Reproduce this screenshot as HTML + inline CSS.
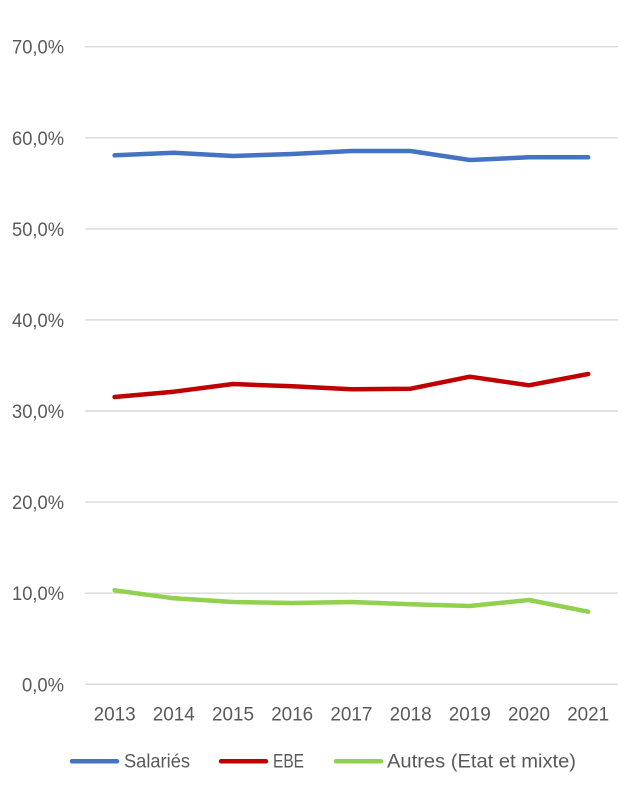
<!DOCTYPE html>
<html>
<head>
<meta charset="utf-8">
<style>
  html,body{margin:0;padding:0;background:#fff;}
  svg{display:block;}
  text{font-family:"Liberation Sans",sans-serif;fill:#595959;}
</style>
</head>
<body>
<svg width="640" height="790" viewBox="0 0 640 790" xmlns="http://www.w3.org/2000/svg">
  <rect width="640" height="790" fill="#fff"/>
  <!-- gridlines -->
  <g stroke="#d9d9d9" stroke-width="1.4">
    <line x1="85" x2="618" y1="684.3" y2="684.3"/>
    <line x1="85" x2="618" y1="593.2" y2="593.2"/>
    <line x1="85" x2="618" y1="502.1" y2="502.1"/>
    <line x1="85" x2="618" y1="411.0" y2="411.0"/>
    <line x1="85" x2="618" y1="319.9" y2="319.9"/>
    <line x1="85" x2="618" y1="228.9" y2="228.9"/>
    <line x1="85" x2="618" y1="137.8" y2="137.8"/>
    <line x1="85" x2="618" y1="46.7" y2="46.7"/>
  </g>
  <!-- y labels -->
  <g font-size="19.5" text-anchor="end">
    <text x="64" y="691.3" textLength="42" lengthAdjust="spacingAndGlyphs">0,0%</text>
    <text x="64" y="600.2" textLength="52" lengthAdjust="spacingAndGlyphs">10,0%</text>
    <text x="64" y="509.1" textLength="52" lengthAdjust="spacingAndGlyphs">20,0%</text>
    <text x="64" y="418.0" textLength="52" lengthAdjust="spacingAndGlyphs">30,0%</text>
    <text x="64" y="326.9" textLength="52" lengthAdjust="spacingAndGlyphs">40,0%</text>
    <text x="64" y="235.9" textLength="52" lengthAdjust="spacingAndGlyphs">50,0%</text>
    <text x="64" y="144.8" textLength="52" lengthAdjust="spacingAndGlyphs">60,0%</text>
    <text x="64" y="53.7" textLength="52" lengthAdjust="spacingAndGlyphs">70,0%</text>
  </g>
  <!-- x labels -->
  <g font-size="19.5" text-anchor="middle">
    <text x="114.6" y="720.7" textLength="42" lengthAdjust="spacingAndGlyphs">2013</text>
    <text x="173.8" y="720.7" textLength="42" lengthAdjust="spacingAndGlyphs">2014</text>
    <text x="233.0" y="720.7" textLength="42" lengthAdjust="spacingAndGlyphs">2015</text>
    <text x="292.2" y="720.7" textLength="42" lengthAdjust="spacingAndGlyphs">2016</text>
    <text x="351.4" y="720.7" textLength="42" lengthAdjust="spacingAndGlyphs">2017</text>
    <text x="410.6" y="720.7" textLength="42" lengthAdjust="spacingAndGlyphs">2018</text>
    <text x="469.8" y="720.7" textLength="42" lengthAdjust="spacingAndGlyphs">2019</text>
    <text x="529.0" y="720.7" textLength="42" lengthAdjust="spacingAndGlyphs">2020</text>
    <text x="588.2" y="720.7" textLength="42" lengthAdjust="spacingAndGlyphs">2021</text>
  </g>
  <!-- series -->
  <g fill="none" stroke-width="4.5" stroke-linecap="round" stroke-linejoin="round">
    <polyline stroke="#4472C4" points="114.6,155.3 173.8,152.7 233.0,156 292.2,154 351.4,151 410.6,151 469.8,160 529.0,157.3 588.2,157.3"/>
    <polyline stroke="#C00000" points="114.6,397 173.8,391.7 233.0,384 292.2,386.3 351.4,389.3 410.6,388.7 469.8,376.7 529.0,385.3 588.2,374"/>
    <polyline stroke="#92D050" points="114.6,590.3 173.8,598.3 233.0,602 292.2,603 351.4,602 410.6,604.3 469.8,606 529.0,600 588.2,611.7"/>
  </g>
  <!-- legend -->
  <g stroke-width="4.5" stroke-linecap="round">
    <line x1="72" x2="117" y1="761.3" y2="761.3" stroke="#4472C4"/>
    <line x1="221" x2="266" y1="761.3" y2="761.3" stroke="#C00000"/>
    <line x1="336" x2="381" y1="761.3" y2="761.3" stroke="#92D050"/>
  </g>
  <g font-size="19.5">
    <text x="124" y="767.5" textLength="66" lengthAdjust="spacingAndGlyphs">Salariés</text>
    <text x="273" y="767.5" textLength="31" lengthAdjust="spacingAndGlyphs">EBE</text>
    <text x="387" y="767.5" textLength="189" lengthAdjust="spacingAndGlyphs">Autres (Etat et mixte)</text>
  </g>
</svg>
</body>
</html>
